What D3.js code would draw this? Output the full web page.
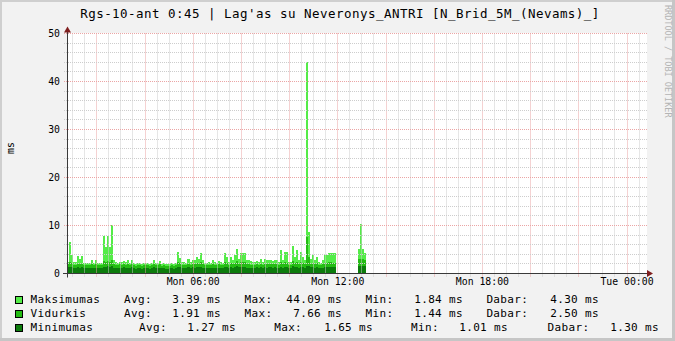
<!DOCTYPE html>
<html>
<head>
<meta charset="utf-8">
<script src="https://cdn.jsdelivr.net/npm/d3@7"></script>
<style>
	body { margin: 0; background: #f2f2f2; }
	svg { display: block; }
	text { font-family: "DejaVu Sans Mono", monospace; fill: #000; }
</style>
</head>
<body>
<svg id="chart" width="675" height="341"></svg>
<script>
// ---- chart data ----
const titleText = "Rgs-10-ant 0:45 | Lag'as su Neveronys_ANTRI [N_Brid_5M_(Nevams)_]";
const yAxisLabel = "ms";
const watermarkText = "RRDTOOL / TOBI OETIKER";

const startTime = new Date(2013, 2, 4, 0, 47);
const endTime = new Date(2013, 2, 5, 0, 51);
const sampleMinutes = 5;

// one value per 5 minute sample, null = no data
const maxValues = [
	2.4, 6.6, 3.8, 2.4, 2.4, 3.6, 3.1, 3.6, 2.2, 2.2,
	2.1, 2.2, 2.9, 2.2, 2.8, 2.2, 2.1, 2.2, 7.8, 5.5,
	7.8, 5.5, 10.1, 2.8, 2.4, 2.2, 2.5, 2.4, 2.6, 2.3,
	2.8, 2.2, 2.8, 2.1, 2.0, 2.2, 2.1, 2.0, 2.1, 2.2,
	2.1, 2.0, 2.1, 2.9, 2.2, 2.1, 2.6, 2.0, 2.1, 2.0,
	1.9, 2.0, 2.1, 2.0, 2.2, 4.5, 3.3, 2.4, 2.3, 2.2,
	3.1, 2.5, 2.9, 2.8, 3.5, 3.1, 4.2, 2.8, 2.2, 2.1,
	2.3, 2.2, 2.8, 2.3, 2.2, 2.7, 2.4, 2.2, 4.3, 3.5,
	2.4, 3.5, 2.8, 3.8, 5.2, 3.1, 4.3, 4.3, 4.3, 2.8,
	2.8, 2.6, 2.4, 2.5, 2.6, 2.4, 3.1, 2.5, 3.1, 2.9,
	2.8, 2.8, 2.7, 2.8, 2.8, 2.5, 4.9, 2.8, 4.5, 4.5,
	2.3, 2.4, 5.7, 3.5, 4.9, 2.8, 4.5, 3.5, 2.8, 44.09,
	8.7, 3.1, 3.8, 2.8, 3.5, 2.4, 2.2, 2.8, 3.8, 3.8,
	4.2, 4.2, 4.3, 4.3,
	null, null, null, null, null, null, null, null, null, null, null,
	5.2, 10.4, 5.2, 4.3
];

const avgValues = [
	1.9, 2.3, 2.1, 1.8, 1.8, 2.0, 1.9, 2.0, 1.7, 1.7,
	1.8, 1.7, 1.9, 1.7, 1.9, 1.8, 1.7, 1.8, 2.6, 2.4,
	2.7, 2.3, 2.9, 1.9, 1.8, 1.7, 1.9, 1.8, 1.9, 1.8,
	1.9, 1.7, 2.0, 1.7, 1.6, 1.8, 1.7, 1.6, 1.7, 1.8,
	1.7, 1.6, 1.7, 2.0, 1.8, 1.7, 1.9, 1.6, 1.7, 1.6,
	1.6, 1.6, 1.7, 1.6, 1.8, 2.4, 2.1, 1.8, 1.7, 1.7,
	2.0, 1.8, 2.0, 1.9, 2.1, 2.0, 2.3, 1.9, 1.7, 1.7,
	1.8, 1.7, 1.9, 1.8, 1.7, 1.9, 1.8, 1.7, 2.3, 2.1,
	1.8, 2.1, 1.9, 2.2, 2.6, 2.0, 2.3, 2.4, 2.3, 1.9,
	1.9, 1.8, 1.8, 1.8, 1.9, 1.8, 2.0, 1.8, 2.0, 1.9,
	1.9, 1.9, 1.9, 2.0, 1.9, 1.8, 2.4, 1.9, 2.3, 2.2,
	1.8, 1.8, 2.7, 2.1, 2.5, 1.9, 2.3, 2.1, 1.9, 7.66,
	3.4, 2.0, 2.2, 1.9, 2.1, 1.8, 1.7, 1.9, 2.1, 2.2,
	2.3, 2.3, 2.2, 2.2,
	null, null, null, null, null, null, null, null, null, null, null,
	3.1, 3.1, 3.1, 2.8
];

const minValues = [
	1.3, 1.4, 1.3, 1.2, 1.2, 1.3, 1.2, 1.3, 1.1, 1.1,
	1.2, 1.1, 1.2, 1.1, 1.2, 1.1, 1.1, 1.2, 1.4, 1.4,
	1.5, 1.4, 1.5, 1.2, 1.2, 1.1, 1.2, 1.2, 1.3, 1.2,
	1.2, 1.1, 1.3, 1.1, 1.0, 1.1, 1.1, 1.0, 1.1, 1.2,
	1.1, 1.0, 1.1, 1.3, 1.2, 1.1, 1.2, 1.1, 1.1, 1.0,
	1.0, 1.1, 1.1, 1.0, 1.2, 1.4, 1.3, 1.2, 1.1, 1.1,
	1.3, 1.2, 1.3, 1.2, 1.3, 1.3, 1.4, 1.2, 1.1, 1.1,
	1.2, 1.1, 1.2, 1.2, 1.1, 1.2, 1.2, 1.1, 1.4, 1.3,
	1.2, 1.3, 1.2, 1.3, 1.5, 1.3, 1.4, 1.4, 1.4, 1.2,
	1.2, 1.2, 1.2, 1.2, 1.3, 1.2, 1.3, 1.2, 1.3, 1.2,
	1.3, 1.3, 1.2, 1.3, 1.2, 1.2, 1.4, 1.2, 1.4, 1.4,
	1.2, 1.2, 1.5, 1.3, 1.4, 1.2, 1.4, 1.3, 1.2, 1.65,
	1.5, 1.3, 1.4, 1.2, 1.3, 1.2, 1.1, 1.2, 1.3, 1.4,
	1.4, 1.4, 1.4, 1.4,
	null, null, null, null, null, null, null, null, null, null, null,
	1.5, 1.6, 1.5, 1.5
];

const seriesNames = ["Maksimumas", "Vidurkis", "Minimumas"];
const statAvg = ["3.39", "1.91", "1.27"];
const statMax = ["44.09", "7.66", "1.65"];
const statMin = ["1.84", "1.44", "1.01"];
const statLast = ["4.30", "2.50", "1.30"];
const statUnit = "ms";

const yTickValues = [0, 10, 20, 30, 40, 50];
const yMinorStep = 2;

// ---- styles ----
const seriesColors = ["#54ec48", "#24bc14", "#0c7c0c"];
const gridColor = "#cdcdcd";
const majorGridColor = "#eba5a5";
const arrowColor = "#801f1f";

const chart = new function()
{
	const _svg = d3.select('#chart');
	const _left = 67, _right = 647, _top = 33.5, _bottom = 273.5;

	const x = d3.scaleTime().domain([startTime, endTime]).range([_left, _right]);
	const y = d3.scaleLinear().domain([0, 50]).range([_bottom, _top]);

	const sampleTime = (i) => d3.timeMinute.offset(startTime, i * sampleMinutes);

	this.draw = function()
	{
		_drawFrame();
		_drawSeries(maxValues, seriesColors[0]);
		_drawSeries(avgValues, seriesColors[1]);
		_drawSeries(minValues, seriesColors[2]);
		_drawGrid();
		_drawAxes();
		_drawTexts();
		_drawLegend();
	}

	const _drawFrame = function()
	{
		_svg.append('rect').attr('width', 675).attr('height', 341).attr('fill', '#f2f2f2');
		_svg.append('rect').attr('x', 0).attr('y', 0).attr('width', 675).attr('height', 2).attr('fill', '#cfcfcf');
		_svg.append('rect').attr('x', 0).attr('y', 0).attr('width', 2).attr('height', 341).attr('fill', '#cfcfcf');
		_svg.append('rect').attr('x', 672).attr('y', 0).attr('width', 3).attr('height', 341).attr('fill', '#c6c6c6');
		_svg.append('rect').attr('x', 0).attr('y', 338).attr('width', 675).attr('height', 3).attr('fill', '#c6c6c6');
		_svg.append('rect')
			.attr('x', _left).attr('y', _top - 0.5)
			.attr('width', _right - _left).attr('height', _bottom - _top + 0.5)
			.attr('fill', '#ffffff');
	}

	const _drawSeries = function(values, color)
	{
		const samples = values
			.map((v, i) => ({ t: sampleTime(i), t2: sampleTime(i + 1), v: v }))
			.filter((d) => d.v != null);

		_svg.append('g')
			.attr('shape-rendering', 'crispEdges')
			.selectAll('rect')
			.data(samples)
			.join('rect')
			.attr('x', (d) => x(d.t))
			.attr('width', (d) => x(d.t2) - x(d.t))
			.attr('y', (d) => y(d.v))
			.attr('height', (d) => y(0) - y(d.v))
			.attr('fill', color);
	}

	const _drawGrid = function()
	{
		const g = _svg.append('g').attr('stroke-width', 1).attr('stroke-dasharray', '1,1');

		// vertical: minor every 30 min, major every 2 hours
		const minorTimes = d3.timeMinute.every(30).range(startTime, endTime)
			.filter((t) => t.getMinutes() != 0 || t.getHours() % 2 != 0);
		const majorTimes = d3.timeHour.every(2).range(startTime, endTime);

		g.selectAll('line.vminor').data(minorTimes).join('line')
			.attr('x1', (t) => Math.round(x(t)) + 0.5).attr('x2', (t) => Math.round(x(t)) + 0.5)
			.attr('y1', _top).attr('y2', _bottom + 3)
			.attr('stroke', gridColor);

		g.selectAll('line.vmajor').data(majorTimes).join('line')
			.attr('x1', (t) => Math.round(x(t)) + 0.5).attr('x2', (t) => Math.round(x(t)) + 0.5)
			.attr('y1', _top).attr('y2', _bottom + 3)
			.attr('stroke', majorGridColor);

		// horizontal: minor every 2, major on labelled ticks
		const minorValues = d3.range(yMinorStep, 50, yMinorStep).filter((v) => v % 10 != 0);

		g.selectAll('line.hminor').data(minorValues).join('line')
			.attr('x1', _left - 3).attr('x2', _right)
			.attr('y1', (v) => Math.round(y(v) - 0.5) + 0.5).attr('y2', (v) => Math.round(y(v) - 0.5) + 0.5)
			.attr('stroke', gridColor);

		g.selectAll('line.hmajor').data(yTickValues.filter((v) => v > 0)).join('line')
			.attr('x1', _left - 3).attr('x2', _right)
			.attr('y1', (v) => y(v)).attr('y2', (v) => y(v))
			.attr('stroke', majorGridColor);
	}

	const _drawAxes = function()
	{
		const g = _svg.append('g');

		g.append('line')
			.attr('x1', _left - 4).attr('x2', _right + 3)
			.attr('y1', _bottom).attr('y2', _bottom)
			.attr('stroke', '#3a3a3a');
		g.append('line')
			.attr('x1', _left + 0.5).attr('x2', _left + 0.5)
			.attr('y1', _bottom + 4).attr('y2', _top - 3)
			.attr('stroke', '#3a3a3a');

		// arrows
		g.append('path')
			.attr('d', `M${_right + 6},${_bottom} L${_right},${_bottom - 3.5} L${_right},${_bottom + 3.5} Z`)
			.attr('fill', arrowColor);
		g.append('path')
			.attr('d', `M${_left + 0.5},${_top - 7} L${_left - 3},${_top - 1} L${_left + 4},${_top - 1} Z`)
			.attr('fill', arrowColor);

		// y tick labels
		g.selectAll('text.ytick').data(yTickValues).join('text')
			.attr('x', 60).attr('y', (v) => y(v) + 3.5)
			.attr('text-anchor', 'end')
			.attr('font-size', '9.8px')
			.text((v) => v);

		// x tick labels every 6 hours
		const labelTimes = d3.timeHour.every(6).range(startTime, endTime);
		const fmt = d3.timeFormat('%a %H:%M');
		g.selectAll('text.xtick').data(labelTimes).join('text')
			.attr('x', (t) => x(t) + 0.5).attr('y', 285)
			.attr('text-anchor', 'middle')
			.attr('font-size', '9.8px')
			.text(fmt);
	}

	const _drawTexts = function()
	{
		_svg.append('text')
			.attr('x', 340).attr('y', 18)
			.attr('text-anchor', 'middle')
			.attr('font-size', '12.5px')
			.attr('letter-spacing', '0.47px')
			.text(titleText);

		_svg.append('text')
			.attr('transform', 'translate(14,148) rotate(-90)')
			.attr('text-anchor', 'middle')
			.attr('font-size', '9.8px')
			.text(yAxisLabel);

		_svg.append('text')
			.attr('transform', 'translate(665,5) rotate(90)')
			.attr('font-size', '8.5px')
			.style('fill', '#b4b4b4')
			.text(watermarkText);
	}

	const _drawLegend = function()
	{
		const rowY = [303, 317, 331];
		const cols = [
			{ avg: 124, avgEnd: 221, max: 244.5, maxEnd: 342, min: 365.5, minEnd: 463, last: 486.4, lastEnd: 599 },
			{ avg: 124, avgEnd: 221, max: 244.5, maxEnd: 342, min: 365.5, minEnd: 463, last: 486.4, lastEnd: 599 },
			{ avg: 139, avgEnd: 236, max: 274.2, maxEnd: 373, min: 411.1, minEnd: 508, last: 547.6, lastEnd: 659 }
		];

		seriesNames.forEach(function(name, i)
		{
			const g = _svg.append('g')
				.attr('font-size', '11px')
				.attr('letter-spacing', '0.35px');
			const yy = rowY[i];
			const c = cols[i];

			g.append('rect')
				.attr('x', 15.5).attr('y', yy - 6.5)
				.attr('width', 7).attr('height', 7)
				.attr('fill', seriesColors[i])
				.attr('stroke', '#000').attr('stroke-width', 1);

			const addText = (xx, anchor, str) => g.append('text')
				.attr('x', xx).attr('y', yy)
				.attr('text-anchor', anchor)
				.text(str);

			addText(30.5, 'start', name);
			addText(c.avg, 'start', 'Avg:');
			addText(c.avgEnd, 'end', statAvg[i] + ' ' + statUnit);
			addText(c.max, 'start', 'Max:');
			addText(c.maxEnd, 'end', statMax[i] + ' ' + statUnit);
			addText(c.min, 'start', 'Min:');
			addText(c.minEnd, 'end', statMin[i] + ' ' + statUnit);
			addText(c.last, 'start', 'Dabar:');
			addText(c.lastEnd, 'end', statLast[i] + ' ' + statUnit);
		});
	}
}

chart.draw();
</script>
</body>
</html>
